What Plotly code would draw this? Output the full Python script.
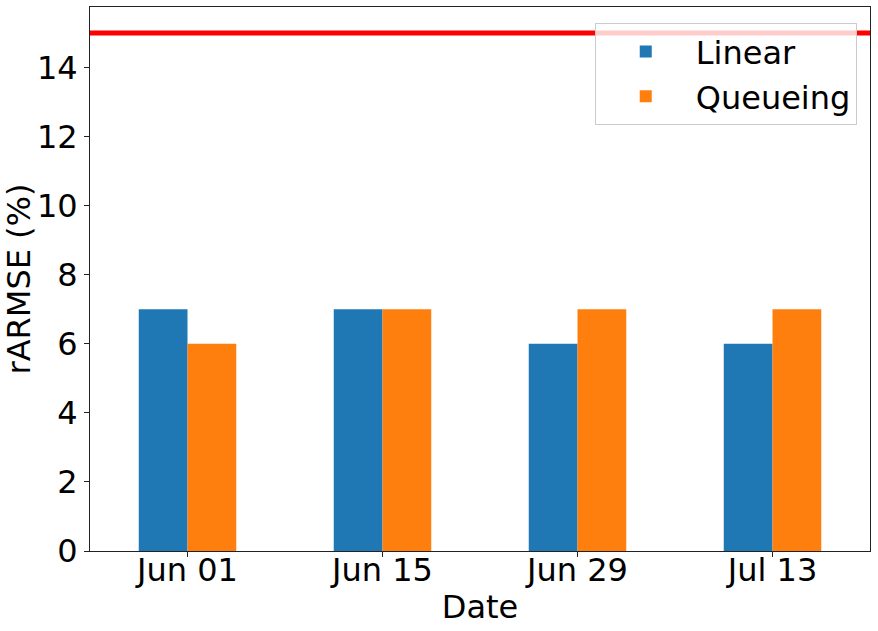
import plotly.graph_objects as go

dates = ["Jun 01", "Jun 15", "Jun 29", "Jul 13"]
linear = [7, 7, 6, 6]
queueing = [6, 7, 7, 7]
threshold = 15

font = "DejaVu Sans"

fig = go.Figure()
fig.add_trace(go.Bar(x=dates, y=linear, name="Linear", marker_color="#1f77b4", marker_line_width=0))
fig.add_trace(go.Bar(x=dates, y=queueing, name="Queueing", marker_color="#ff7f0e", marker_line_width=0))

# threshold line
fig.add_shape(
    type="line", xref="paper", x0=0, x1=1, yref="y", y0=threshold, y1=threshold,
    line=dict(color="red", width=5), layer="below",
)

axis_common = dict(
    showline=True, linecolor="#222", linewidth=1, mirror=True,
    ticks="outside", ticklen=5, tickcolor="#222", showgrid=False, zeroline=False,
    tickfont=dict(size=32, color="black", family=font), automargin=False,
)

fig.update_layout(
    width=878,
    height=631,
    margin=dict(l=90, r=8, t=7, b=80),
    plot_bgcolor="white",
    paper_bgcolor="white",
    font=dict(family=font, color="black"),
    barmode="group",
    bargap=0.5,
    bargroupgap=0,
    xaxis=dict(title=dict(text="Date", font=dict(size=32), standoff=7),
               ticklabelstandoff=-14, **axis_common),
    yaxis=dict(title=dict(text="rARMSE (%)", font=dict(size=32), standoff=0),
               range=[0, 15.75], dtick=2, **axis_common),
    legend=dict(
        x=0.983, y=0.97, xanchor="right", yanchor="top",
        bgcolor="rgba(255,255,255,0.8)", bordercolor="#ccc", borderwidth=1,
        font=dict(size=32, family=font), itemwidth=90,
    ),
)

fig.write_html("out.html", config={"displayModeBar": False},
               post_script="document.body.style.margin='0';")
